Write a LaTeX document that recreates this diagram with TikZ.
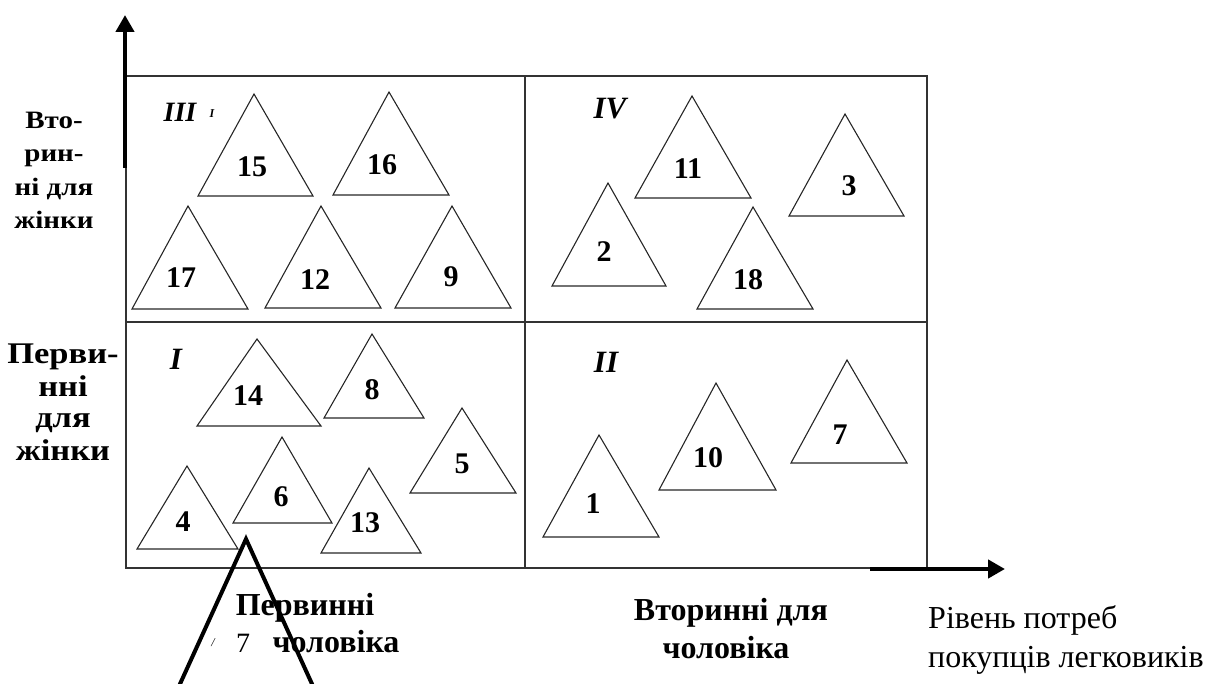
\documentclass[tikz,border=0pt]{standalone}
\usepackage{fontspec}
\setmainfont{Liberation Serif}
\newfontfamily\stretchA[FakeStretch=1.16]{Liberation Serif}
\newfontfamily\stretchB[FakeStretch=1.15]{Liberation Serif}
\usetikzlibrary{arrows.meta}
% name, apex x, apex y, left x, right x, base y, label x, label y, text
\newcommand\trig[9]{%
  \coordinate (#1a) at (#2,#3);
  \coordinate (#1l) at (#4,#6);
  \coordinate (#1r) at (#5,#6);
  \draw[tri] (#1a) -- (#1l) -- (#1r) -- cycle;
  \node[num] (#1t) at (#7,#8) {#9};}
\begin{document}
\begin{tikzpicture}[x=1pt,y=-1pt,
  tri/.style={draw=black!85,line width=1.1pt,line join=miter},
  frame/.style={draw=black!80,line width=1.3pt},
  num/.style={font=\fontsize{30}{30}\selectfont\bfseries,inner sep=0pt},
  quad/.style={font=\fontsize{31}{31}\selectfont\bfseries\itshape,inner sep=0pt},
  sideA/.style={font=\stretchA\fontsize{25}{25}\selectfont\bfseries,inner sep=0pt,anchor=base},
  sideB/.style={font=\stretchB\fontsize{30}{30}\selectfont\bfseries,inner sep=0pt,anchor=base},
  bot/.style={font=\fontsize{32}{32}\selectfont\bfseries,inner sep=0pt,anchor=base},
  reg/.style={font=\fontsize{32}{32}\selectfont,inner sep=0pt,anchor=base west},
  axis/.style={line width=4.5pt,-{Triangle[length=17pt,width=18pt]}},
  big/.style={line width=4pt}]
\useasboundingbox (0,0) rectangle (1210,684);
\clip (0,0) rectangle (1210,684);
% frame
\coordinate (tl) at (126,76);
\coordinate (br) at (927,568);
\coordinate (mt) at (525,76);
\coordinate (mb) at (525,568);
\coordinate (ml) at (126,322);
\coordinate (mr) at (927,322);
\draw[frame] (tl) rectangle (br);
\draw[frame] (mt) -- (mb);
\draw[frame] (ml) -- (mr);
% axes
\coordinate (ya) at (125,168);
\coordinate (yb) at (125,15);
\draw[axis] (ya) -- (yb);
\coordinate (xa) at (870,569);
\coordinate (xb) at (1005,569);
\draw[axis] (xa) -- (xb);
% quadrant labels
\node[quad,font=\fontsize{28}{28}\selectfont\bfseries\itshape] (q3) at (180,112) {III};
\node[font=\fontsize{12}{12}\selectfont\bfseries\itshape,inner sep=0pt] (q3i) at (212,114) {I};
\node[quad] (q4) at (610,109) {IV};
\node[quad] (q1) at (176,359) {I};
\node[quad] (q2) at (606,362) {II};
% triangles III
\trig{t15}{254}{94}{198}{313}{196}{252}{167}{15}
\trig{t16}{389}{92}{333}{449}{195}{382}{165}{16}
\trig{t17}{188}{206}{132}{248}{309}{181}{278}{17}
\trig{t12}{321}{206}{265}{381}{308}{315}{280}{12}
\trig{t9}{452}{206}{395}{511}{308}{451}{277}{9}
% IV
\trig{t11}{692}{96}{635}{751}{198}{688}{169}{11}
\trig{t3}{845}{114}{789}{904}{216}{849}{186}{3}
\trig{t2}{608}{183}{552}{666}{286}{604}{252}{2}
\trig{t18}{753}{207}{697}{813}{309}{748}{280}{18}
% I
\trig{t14}{257}{339}{197}{321}{426}{248}{396}{14}
\trig{t8}{372}{334}{324}{424}{418}{372}{390}{8}
\trig{t5}{462}{408}{410}{516}{493}{462}{464}{5}
\trig{t4}{187}{466}{137}{238}{549}{183}{522}{4}
\trig{t6}{282}{437}{233}{332}{523}{281}{497}{6}
\trig{t13}{369}{468}{321}{421}{553}{365}{523}{13}
% II
\trig{t1}{599}{435}{543}{659}{537}{593}{504}{1}
\trig{t10}{716}{383}{659}{776}{490}{708}{458}{10}
\trig{t7}{847}{360}{791}{907}{463}{840}{435}{7}
% side labels
\node[sideA] (s1a) at (54,129) {Вто-};
\node[sideA] (s1b) at (54,162) {рин-};
\node[sideA] (s1c) at (54,196) {ні для};
\node[sideA] (s1d) at (54,229) {жінки};
\node[sideB] (s2a) at (63,363) {Перви-};
\node[sideB] (s2b) at (63,396) {нні};
\node[sideB] (s2c) at (63,428) {для};
\node[sideB] (s2d) at (63,460) {жінки};
% bottom labels
\node[bot] (b1) at (305,615) {Первинні};
\node[bot] (b2) at (336,652) {чоловіка};
\node[font=\fontsize{28}{28}\selectfont,inner sep=0pt,anchor=base] (b7) at (243,652) {7};
\node[font=\fontsize{12}{12}\selectfont\itshape,inner sep=0pt] (bm) at (213,643) {/};
\node[bot] (b3) at (731,620) {Вторинні для};
\node[bot] (b4) at (726,658) {чоловіка};
\node[reg] (r1) at (928,628) {Рівень потреб};
\node[reg] (r2) at (928,667) {покупців легковиків};
% big triangle
\coordinate (ba) at (246,539);
\coordinate (bl) at (172.7,700);
\coordinate (brr) at (319.3,700);
\draw[big] (bl) -- (ba) -- (brr);
\end{tikzpicture}
\end{document}
